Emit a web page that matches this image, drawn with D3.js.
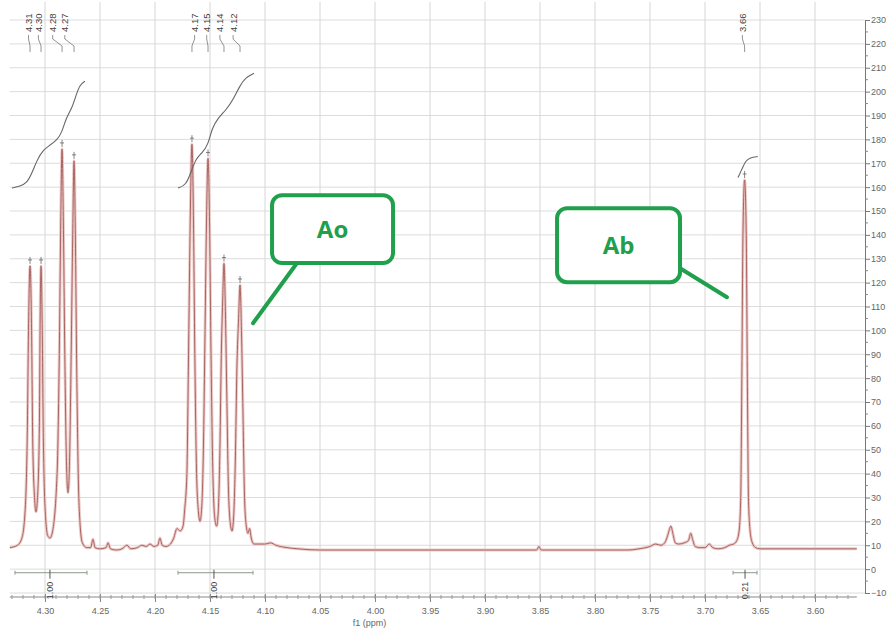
<!DOCTYPE html>
<html><head><meta charset="utf-8">
<script src="https://cdn.jsdelivr.net/npm/d3@7"></script>
<style>body{margin:0;background:#fff}svg{display:block}</style>
</head><body>
<script>
// ---- data ----
const xTicks = [4.30,4.25,4.20,4.15,4.10,4.05,4.00,3.95,3.90,3.85,3.80,3.75,3.70,3.65,3.60];
const yTicks = d3.range(-10, 231, 10);
const spectrum = [
[4.3320,9],[4.3250,10],[4.3210,13],[4.3180,25],[4.3160,60],[4.3150,100],[4.3136,127],[4.3122,100],[4.3112,55],[4.3095,30],[4.3082,24],[4.3068,30],[4.3051,60],[4.3045,100],[4.3036,127],[4.3025,100],[4.3015,55],[4.2995,22],[4.2975,14],[4.2955,13],[4.2935,15],[4.2890,40],[4.2870,90],[4.2857,145],[4.2845,176],[4.2833,145],[4.2820,90],[4.2805,45],[4.2791,32],[4.2777,45],[4.2762,90],[4.2748,140],[4.2736,171],[4.2724,140],[4.2712,85],[4.2698,40],[4.2680,18],[4.2660,11],[4.2620,9],[4.2585,9],[4.2564,12.5],[4.2545,9],[4.2500,8.5],[4.2445,9],[4.2427,11],[4.2405,8.5],[4.2350,8],[4.2300,8.5],[4.2255,10],[4.2220,8.5],[4.2160,9],[4.2120,10],[4.2080,9.5],[4.2045,10.5],[4.2010,9.5],[4.1975,10],[4.1955,13],[4.1935,10],[4.1900,9.5],[4.1860,10.5],[4.1830,13],[4.1800,17],[4.1770,16],[4.1745,18],[4.1730,25],[4.1710,40],[4.1695,90],[4.1680,145],[4.1664,178],[4.1650,145],[4.1638,90],[4.1622,40],[4.1605,24],[4.1591,20],[4.1575,26],[4.1560,50],[4.1545,100],[4.1532,145],[4.1518,172],[4.1504,145],[4.1492,95],[4.1476,45],[4.1458,22],[4.1440,18],[4.1425,24],[4.1410,50],[4.1397,90],[4.1385,112],[4.1373,128],[4.1360,108],[4.1348,75],[4.1333,35],[4.1315,19],[4.1300,16],[4.1285,22],[4.1270,45],[4.1255,85],[4.1240,105],[4.1227,119],[4.1214,100],[4.1200,65],[4.1186,30],[4.1170,18],[4.1155,15],[4.1140,17],[4.1125,13],[4.1100,10.5],[4.1000,10.5],[4.0950,11],[4.0900,10],[4.0800,9],[4.0700,8.5],[4.0500,8],[4.0000,8],[3.9500,8],[3.9000,8],[3.8530,8],[3.8510,9.5],[3.8490,8],[3.8000,8],[3.7700,8],[3.7600,8.5],[3.7500,9.5],[3.7450,10.5],[3.7400,10],[3.7360,11.5],[3.7340,14],[3.7310,18],[3.7290,14.5],[3.7270,11],[3.7240,10.5],[3.7190,11],[3.7150,12],[3.7130,15],[3.7110,12],[3.7090,9.5],[3.7050,9],[3.7000,9],[3.6960,10.5],[3.6930,9],[3.6880,8.5],[3.6820,9],[3.6780,10],[3.6740,10.5],[3.6710,12],[3.6690,16],[3.6675,30],[3.6665,80],[3.6655,140],[3.6640,163],[3.6625,140],[3.6615,80],[3.6605,30],[3.6590,16],[3.6570,11],[3.6540,9],[3.6500,8.5],[3.6000,8.5],[3.5620,8.5]
];
const integral1 = [[4.330,159.6],[4.3227,160.4],[4.3164,161.7],[4.3118,165.9],[4.3073,171.3],[4.3018,175.5],[4.2955,177.6],[4.2891,179.7],[4.2845,183],[4.2809,189],[4.2755,193],[4.2718,198.5],[4.2682,203],[4.2636,204.4]];
const integral2 = [[4.1791,159.6],[4.1718,160.8],[4.1673,166.3],[4.1627,172.1],[4.1573,174.2],[4.1518,177.6],[4.1482,184.7],[4.1427,188.9],[4.1355,192.3],[4.1291,196.4],[4.1227,202.7],[4.1173,206],[4.1100,207.7]];
const integral3 = [[3.6700,164],[3.6660,168],[3.6630,171],[3.6590,172.4],[3.6520,172.8]];
const integralRanges = [[4.3273,4.2618,4.2955,"1.00"],[4.1791,4.1109,4.1464,"1.00"],[3.6745,3.6527,3.6636,"0.21"]];
const peakLabels = ["4.31","4.30","4.28","4.27","4.17","4.15","4.14","4.12","3.66"];
const peakPos    = [4.3136,4.3036,4.2845,4.2736,4.1664,4.1518,4.1373,4.1227,3.6640];
const peakHeights= [127,127,176,171,178,172,128,119,163];
const labelPos   = [4.3150,4.3060,4.2930,4.2820,4.1640,4.1530,4.1410,4.1290,3.6660];
const callouts = [
  {text:"Ao", x0:4.0936, x1:3.9836, y0:156.6, y1:128.2, from:[4.0709,128.2], to:[4.1109,103]},
  {text:"Ab", x0:3.8345, x1:3.7227, y0:151.2, y1:120.2, from:[3.7227,126], to:[3.6800,113.9]}
];

// ---- chart ----
const W=890,H=631;
const svg=d3.select("body").append("svg").attr("width",W).attr("height",H);
const x=d3.scaleLinear().domain([4.332,3.562]).range([9.8,856.8]);
const y=d3.scaleLinear().domain([-10,230]).range([593,20]);
const axisX=865, axisY=597;

// grid
const g=svg.append("g");
g.selectAll(".hg").data(yTicks).join("line")
 .attr("x1",x(4.332)).attr("x2",axisX).attr("y1",d=>y(d)).attr("y2",d=>y(d))
 .attr("stroke","#dcdcdc").attr("stroke-width",1);
g.selectAll(".vg").data(xTicks).join("line")
 .attr("x1",d=>x(d)).attr("x2",d=>x(d)).attr("y1",2).attr("y2",axisY)
 .attr("stroke","#d6d6d6").attr("stroke-width",1);

// right axis
const yAxis=d3.axisRight(y).tickValues(yTicks).tickSize(5).tickPadding(1).tickFormat(d3.format("d"));
const ya=svg.append("g").attr("transform",`translate(${axisX},0)`).call(yAxis);
ya.selectAll(".tick line").attr("stroke","#777");
ya.select(".domain").attr("stroke","#777");
ya.selectAll(".tick text").attr("fill","#666").style("font-family","Liberation Sans, Arial").style("font-size","9px");
ya.selectAll(".minor").data(d3.range(-5,230,10)).join("line").attr("class","minor")
 .attr("x1",0).attr("x2",3).attr("y1",d=>y(d)).attr("y2",d=>y(d)).attr("stroke","#888");

// bottom axis
const xAxis=d3.axisBottom(x).tickValues(xTicks).tickSize(5).tickPadding(6).tickFormat(d3.format(".2f"));
const xa=svg.append("g").attr("transform",`translate(0,${axisY})`).call(xAxis);
xa.select(".domain").attr("d",`M${x(4.332)},0H${x(3.562)}`).attr("stroke","#888");
xa.selectAll(".tick line").attr("stroke","#888").attr("y1",-3);
xa.selectAll(".tick text").attr("fill","#666").style("font-family","Liberation Sans, Arial").style("font-size","9px");
xa.selectAll(".minor").data(d3.range(4.33,3.565,-0.01)).join("line").attr("class","minor")
 .attr("x1",d=>x(d)).attr("x2",d=>x(d)).attr("y1",-2).attr("y2",2).attr("stroke","#999");
svg.append("text").attr("x",x(4.005)).attr("y",626).attr("text-anchor","middle")
 .attr("fill","#666").style("font-family","Liberation Sans, Arial").style("font-size","9px").text("f1 (ppm)");

// spectrum
const line=d3.line().x(d=>x(d[0])).y(d=>y(d[1])).curve(d3.curveMonotoneX);
svg.append("path").datum(spectrum).attr("d",line).attr("fill","none").attr("stroke","#eccbc9").attr("stroke-width",3);
svg.append("path").datum(spectrum).attr("d",line).attr("fill","none").attr("stroke","#a86461").attr("stroke-width",1);

// integrals
const iline=d3.line().x(d=>x(d[0])).y(d=>y(d[1])).curve(d3.curveBasis);
[integral1,integral2,integral3].forEach(a=>{
  svg.append("path").datum(a).attr("d",iline).attr("fill","none").attr("stroke","#666").attr("stroke-width",1.1);
});
const barY=y(-1.5);
integralRanges.forEach(r=>{
  const gg=svg.append("g").attr("stroke","#8a9a8a").attr("stroke-width",1);
  gg.append("line").attr("x1",x(r[0])).attr("x2",x(r[1])).attr("y1",barY).attr("y2",barY);
  gg.append("line").attr("x1",x(r[0])).attr("x2",x(r[0])).attr("y1",barY-2).attr("y2",barY+2);
  gg.append("line").attr("x1",x(r[1])).attr("x2",x(r[1])).attr("y1",barY-2).attr("y2",barY+2);
  gg.append("line").attr("x1",x(r[2])).attr("x2",x(r[2])).attr("y1",barY-3).attr("y2",barY+6).attr("stroke","#555");
  svg.append("text").attr("transform",`translate(${x(r[2])+3},${barY+9}) rotate(-90)`)
   .attr("text-anchor","end").attr("fill","#444").style("font-family","Liberation Sans, Arial").style("font-size","9px").text(r[3]);
});

// peak labels
peakLabels.forEach((t,i)=>{
  const lx=x(labelPos[i]), px=x(peakPos[i]);
  svg.append("text").attr("transform",`translate(${lx+3.5},32) rotate(-90)`)
   .attr("fill","#444").style("font-family","Liberation Sans, Arial").style("font-size","9.5px").text(t);
  svg.append("path").attr("d",`M${lx},35V39L${px},46V52`).attr("fill","none").attr("stroke","#777").attr("stroke-width",0.8);
  const ty=y(peakHeights[i]);
  svg.append("line").attr("x1",px).attr("x2",px).attr("y1",ty-9).attr("y2",ty-2).attr("stroke","#666").attr("stroke-width",0.8);
  svg.append("line").attr("x1",px-2).attr("x2",px+2).attr("y1",ty-6).attr("y2",ty-6).attr("stroke","#666").attr("stroke-width",0.8);
});

// callouts
const green="#20a04c";
callouts.forEach(c=>{
  svg.append("line").attr("x1",x(c.from[0])).attr("y1",y(c.from[1])).attr("x2",x(c.to[0])).attr("y2",y(c.to[1]))
   .attr("stroke",green).attr("stroke-width",4).attr("stroke-linecap","round");
  svg.append("rect").attr("x",x(c.x0)).attr("y",y(c.y0)).attr("width",x(c.x1)-x(c.x0)).attr("height",y(c.y1)-y(c.y0))
   .attr("rx",10).attr("fill","#fff").attr("stroke",green).attr("stroke-width",4);
  svg.append("text").attr("x",(x(c.x0)+x(c.x1))/2).attr("y",(y(c.y0)+y(c.y1))/2).attr("dy","0.35em")
   .attr("text-anchor","middle").attr("fill",green).style("font-family","Open Sans, Lato, sans-serif")
   .style("font-weight","bold").style("font-size","24px").text(c.text);
});
</script>
</body></html>
